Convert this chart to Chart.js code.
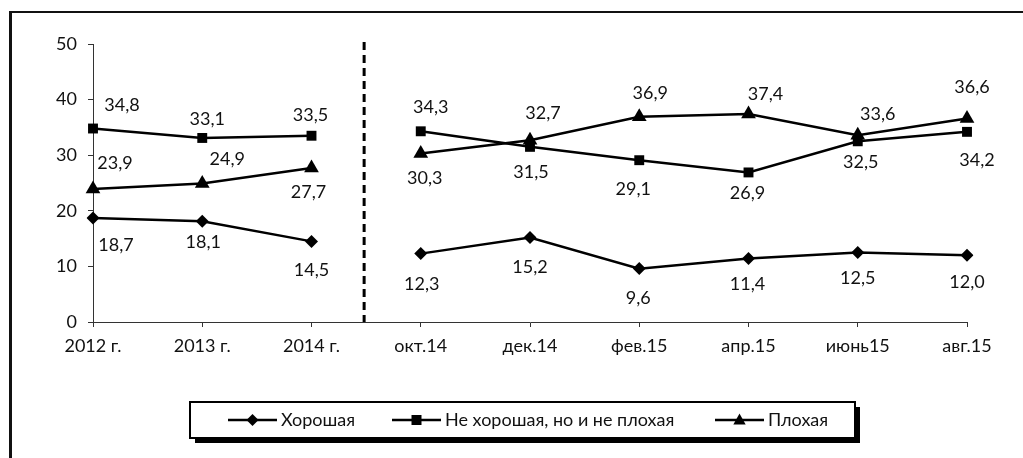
<!DOCTYPE html>
<html>
<head>
<meta charset="utf-8">
<script src="https://cdn.jsdelivr.net/npm/chart.js@4/dist/chart.umd.min.js"></script>
<style>
  html, body { margin: 0; padding: 0; background: #fff; }
  canvas { display: block; }
</style>
</head>
<body>
<canvas id="c" width="1023" height="458"></canvas>
<script>
// ---- data ----
const categories = ['2012 г.', '2013 г.', '2014 г.', 'окт.14', 'дек.14', 'фев.15', 'апр.15', 'июнь15', 'авг.15'];
const seriesNames = ['Хорошая', 'Не хорошая, но и не плохая', 'Плохая'];
const goodValues = [18.7, 18.1, 14.5, 12.3, 15.2, 9.6, 11.4, 12.5, 12.0];
const neutralValues = [34.8, 33.1, 33.5, 34.3, 31.5, 29.1, 26.9, 32.5, 34.2];
const badValues = [23.9, 24.9, 27.7, 30.3, 32.7, 36.9, 37.4, 33.6, 36.6];
const yTickValues = [0, 10, 20, 30, 40, 50];
const breakAfterIndex = 2; // lines are not joined between "2014 г." and "окт.14"

// ---- label placement (style) ----
const goodLabelOffsets = [[23,27],[1,21],[0,29],[1,31],[0,30],[-1,30],[-1,26],[0,26],[0,27]];
const neutralLabelOffsets = [[29,-23],[5,-19],[-1,-21],[10,-24],[1,25],[-6,29],[-1,21],[3,21],[10,28]];
const badLabelOffsets = [[22,-26],[25,-24],[-3,24],[4,25],[13,-27],[11,-24],[17,-20],[20,-21],[5,-31]];

const FONT = 'Lato, "Open Sans", sans-serif';
const fmt = v => v.toFixed(1).replace('.', ',');

function makeDataset(label, data, pointStyle, radius, offsets) {
  return {
    label, data, pointStyle,
    pointRadius: radius, pointHoverRadius: radius,
    borderColor: '#000', backgroundColor: '#000',
    pointBackgroundColor: '#000', pointBorderColor: '#000', pointBorderWidth: 0,
    borderWidth: 2.5, tension: 0,
    segment: { borderColor: ctx => ctx.p0DataIndex === breakAfterIndex ? 'rgba(0,0,0,0)' : '#000' },
    labelOffsets: offsets
  };
}

function drawMarker(ctx, style, x, y, r) {
  ctx.beginPath();
  if (style === 'rectRot') {
    ctx.moveTo(x, y - r); ctx.lineTo(x + r, y); ctx.lineTo(x, y + r); ctx.lineTo(x - r, y);
  } else if (style === 'rect') {
    ctx.rect(x - r, y - r, 2 * r, 2 * r);
  } else {
    ctx.moveTo(x, y - r); ctx.lineTo(x + r * 0.95, y + r * 0.7); ctx.lineTo(x - r * 0.95, y + r * 0.7);
  }
  ctx.closePath();
  ctx.fill();
}

const decorPlugin = {
  id: 'decor',
  afterDatasetsDraw(chart) {
    const ctx = chart.ctx;
    const xs = chart.scales.x, ys = chart.scales.y;
    // dashed separator
    const xm = (xs.getPixelForValue(breakAfterIndex) + xs.getPixelForValue(breakAfterIndex + 1)) / 2 - 2;
    ctx.save();
    ctx.strokeStyle = '#000';
    ctx.lineWidth = 3;
    ctx.setLineDash([8, 5]);
    ctx.beginPath();
    ctx.moveTo(xm, ys.getPixelForValue(50) - 2);
    ctx.lineTo(xm, ys.getPixelForValue(0));
    ctx.stroke();
    ctx.restore();

    // data labels
    ctx.save();
    ctx.fillStyle = '#111';
    ctx.font = '18px ' + FONT;
    ctx.textAlign = 'center';
    ctx.textBaseline = 'middle';
    chart.data.datasets.forEach((ds, di) => {
      const meta = chart.getDatasetMeta(di);
      meta.data.forEach((pt, i) => {
        const off = ds.labelOffsets[i];
        ctx.fillText(fmt(ds.data[i]), pt.x + off[0], pt.y + off[1]);
      });
    });
    ctx.restore();
  },
  afterDraw(chart) {
    const ctx = chart.ctx;
    ctx.save();
    // outer frame (top and left edges visible)
    ctx.fillStyle = '#111';
    ctx.fillRect(9, 11, 1014, 2);
    ctx.fillRect(9, 11, 3, 447);

    // legend box with shadow
    const bx = 190, by = 402, bw = 665, bh = 36;
    ctx.fillStyle = '#000';
    ctx.fillRect(bx + 5, by + 5, bw, bh);
    ctx.fillStyle = '#fff';
    ctx.fillRect(bx, by, bw, bh);
    ctx.strokeStyle = '#000';
    ctx.lineWidth = 2;
    ctx.strokeRect(bx, by, bw, bh);

    const itemStarts = [228, 392, 715];
    const markers = [['rectRot', 6], ['rect', 5], ['triangle', 6.5]];
    const cy = 420;
    ctx.font = '18px ' + FONT;
    ctx.textAlign = 'left';
    ctx.textBaseline = 'middle';
    chart.data.datasets.forEach((ds, i) => {
      const x0 = itemStarts[i];
      ctx.strokeStyle = '#000';
      ctx.lineWidth = 2.5;
      ctx.beginPath();
      ctx.moveTo(x0, cy);
      ctx.lineTo(x0 + 49, cy);
      ctx.stroke();
      ctx.fillStyle = '#000';
      drawMarker(ctx, markers[i][0], x0 + 24.5, cy, markers[i][1]);
      ctx.fillStyle = '#111';
      ctx.fillText(ds.label, x0 + 53, cy);
    });
    ctx.restore();
  }
};

new Chart(document.getElementById('c'), {
  type: 'line',
  data: {
    labels: categories,
    datasets: [
      makeDataset(seriesNames[0], goodValues, 'rectRot', 6.5, goodLabelOffsets),
      makeDataset(seriesNames[1], neutralValues, 'rect', 7, neutralLabelOffsets),
      makeDataset(seriesNames[2], badValues, 'triangle', 8.5, badLabelOffsets)
    ]
  },
  options: {
    responsive: false,
    animation: false,
    devicePixelRatio: 1,
    layout: { padding: { left: 53, right: 56, top: 44, bottom: 96 } },
    plugins: { legend: { display: false }, tooltip: { enabled: false } },
    scales: {
      x: {
        type: 'category',
        offset: false,
        afterFit: s => { s.height = 40; },
        grid: { display: true, drawOnChartArea: false, drawTicks: true, tickLength: 5, color: '#333', lineWidth: 1 },
        border: { display: true, color: '#333', width: 1 },
        ticks: { color: '#111', font: { family: FONT, size: 18 }, padding: 8, maxRotation: 0, autoSkip: false }
      },
      y: {
        min: 0, max: 50,
        afterFit: s => { s.width = 40; },
        afterBuildTicks: s => { s.ticks = yTickValues.map(v => ({ value: v })); },
        grid: { display: true, drawOnChartArea: false, drawTicks: true, tickLength: 5, color: '#333', lineWidth: 1 },
        border: { display: true, color: '#333', width: 1 },
        ticks: { color: '#111', font: { family: FONT, size: 18 }, padding: 11 }
      }
    }
  },
  plugins: [decorPlugin]
});
</script>
</body>
</html>
